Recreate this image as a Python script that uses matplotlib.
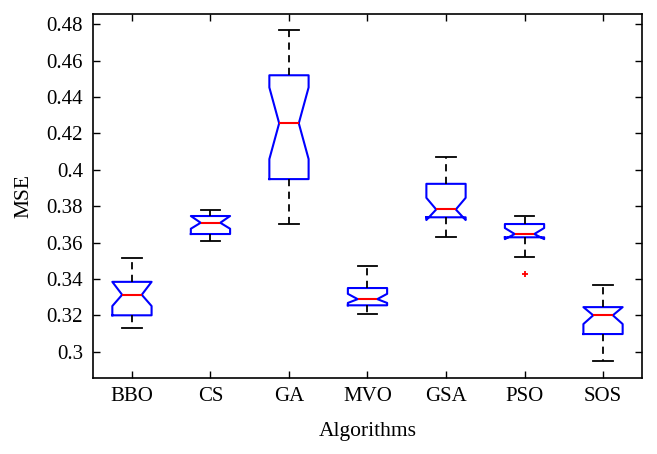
import matplotlib
matplotlib.use("Agg")
import matplotlib.pyplot as plt
from matplotlib.ticker import FormatStrFormatter, MultipleLocator

# Algorithms and box statistics
algorithms = ["BBO", "CS", "GA", "MVO", "GSA", "PSO", "SOS"]
whisker_lo = [0.3128, 0.3607, 0.3703, 0.3207, 0.3630, 0.3522, 0.2950]
q1 = [0.3200, 0.3647, 0.3949, 0.3255, 0.3739, 0.3629, 0.3097]
median = [0.3313, 0.3709, 0.4256, 0.3289, 0.3782, 0.3647, 0.3200]
q3 = [0.3384, 0.3746, 0.4520, 0.3350, 0.3923, 0.3702, 0.3245]
whisker_hi = [0.3513, 0.3780, 0.4767, 0.3471, 0.4070, 0.3744, 0.3368]
notch_lo = [0.3251, 0.3676, 0.4059, 0.3268, 0.3724, 0.3619, 0.3152]
notch_hi = [0.3384, 0.3746, 0.4453, 0.3318, 0.3846, 0.3680, 0.3245]
outliers = [[], [], [], [], [], [0.3427], []]

stats = []
for i, name in enumerate(algorithms):
    stats.append({
        "label": name,
        "whislo": whisker_lo[i],
        "q1": q1[i],
        "med": median[i],
        "q3": q3[i],
        "whishi": whisker_hi[i],
        "cilo": notch_lo[i],
        "cihi": notch_hi[i],
        "fliers": outliers[i],
    })

plt.rcParams["font.family"] = ["Liberation Serif", "DejaVu Serif"]

fig = plt.figure(figsize=(6.57, 4.54), dpi=100)
ax = fig.add_axes([0.1411, 0.1681, 0.8365, 0.8011])

ax.bxp(stats, shownotches=True, widths=0.5,
       boxprops=dict(color="blue", linewidth=1.5),
       medianprops=dict(color="red", linewidth=1.5),
       whiskerprops=dict(color="black", linestyle=(0, (4, 3)), linewidth=1.3),
       capprops=dict(color="black", linewidth=1.3),
       flierprops=dict(marker="+", markeredgecolor="red", markersize=5,
                       markeredgewidth=1.3, linestyle="none"))

ax.set_xlim(0.5, 7.5)
ax.set_ylim(0.2857, 0.4857)
ax.yaxis.set_major_locator(MultipleLocator(0.02))
ax.yaxis.set_major_formatter(FormatStrFormatter("%g"))
ax.tick_params(direction="in", top=True, right=True, labelsize=15,
               length=5, width=1.0, pad=7)
for s in ax.spines.values():
    s.set_linewidth(1.2)

ax.set_xlabel("Algorithms", fontsize=15.5, labelpad=11)
ax.set_ylabel("MSE", fontsize=15.5, labelpad=9)

fig.savefig("out.png", dpi=100)
